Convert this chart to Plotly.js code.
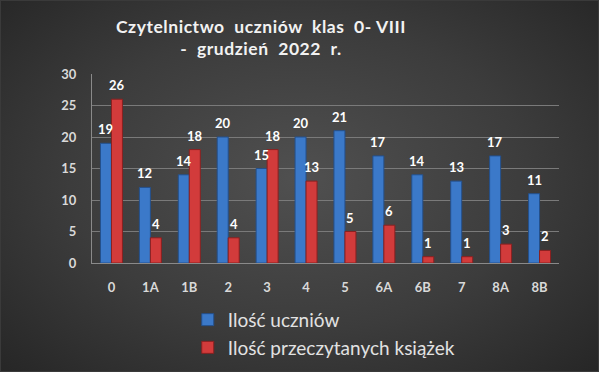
<!DOCTYPE html>
<html>
<head>
<meta charset="utf-8">
<script src="https://cdn.plot.ly/plotly-3.0.1.min.js"></script>
<style>
html,body{margin:0;padding:0;background:#262626;}
#chart{width:599px;height:372px;background:radial-gradient(ellipse 70% 75% at 50% 48%, #505050 0%, #3c3c3c 55%, #262626 100%);box-sizing:border-box;border:1px solid #3a3a3a;}
#chart .gtitle{letter-spacing:0.55px;}
</style>
</head>
<body>
<div id="chart"></div>
<script>
const categories = ['0','1A','1B','2','3','4','5','6A','6B','7','8A','8B'];
const students = [19,12,14,20,15,20,21,17,14,13,17,11];
const books = [26,4,18,4,18,13,5,6,1,1,3,2];
const seriesNames = ['Ilość uczniów','Ilość przeczytanych książek'];
const titleText = 'Czytelnictwo\u00a0 uczniów\u00a0 klas\u00a0 0-\u00a0VIII<br>-\u00a0 grudzień\u00a0 2022\u00a0 r.';

const fontFam = 'Lato, "Open Sans", sans-serif';
const traces = [
  {type:'bar', name:seriesNames[0], x:categories, y:students,
   marker:{color:'#3b79c9', line:{color:'#24508c', width:1}}, hoverinfo:'none'},
  {type:'bar', name:seriesNames[1], x:categories, y:books,
   marker:{color:'#d23b3b', line:{color:'#8a2020', width:1}}, hoverinfo:'none'}
];

const annotations = [];
categories.forEach((c,i)=>{
  annotations.push({x:i, y:students[i], xref:'x', yref:'y', text:String(students[i]), showarrow:false,
    xshift:-5.5, yshift:4, yanchor:'bottom', font:{family:fontFam, size:13, color:'#ffffff', weight:'bold'}});
  annotations.push({x:i, y:books[i], xref:'x', yref:'y', text:String(books[i]), showarrow:false,
    xshift:5.5, yshift:4, yanchor:'bottom', font:{family:fontFam, size:13, color:'#ffffff', weight:'bold'}});
});

const layout = {
  width:599, height:372,
  paper_bgcolor:'rgba(0,0,0,0)', plot_bgcolor:'rgba(0,0,0,0)',
  margin:{l:91, r:41, t:73, b:110, autoexpand:false},
  title:{text:titleText, x:0.434, xanchor:'center', y:0.915, yref:'container', yanchor:'middle',
    font:{family:fontFam, size:17.5, color:'#f2f2f2', weight:'bold'}},
  barmode:'group', bargap:0.435, bargroupgap:0,
  xaxis:{type:'category', showline:true, linecolor:'#8a8a8a', linewidth:1, showgrid:false,
    ticks:'', ticklabelstandoff:12, tickfont:{family:fontFam, size:13, color:'#d9d9d9', weight:'bold'}},
  yaxis:{range:[0,30], dtick:5, showgrid:true, gridcolor:'#7a7a7a', gridwidth:1,
    showline:true, linecolor:'#8a8a8a', linewidth:1, zeroline:false, ticks:'', ticklabelstandoff:12,
    tickfont:{family:fontFam, size:13, color:'#d9d9d9', weight:'bold'}},
  showlegend:true,
  legend:{orientation:'v', x:0.205, xanchor:'left', y:-0.2, yanchor:'top', bgcolor:'rgba(0,0,0,0)',
    font:{family:fontFam, size:19, color:'#e2e2e2'}, itemwidth:30},
  annotations:annotations
};
Plotly.newPlot('chart', traces, layout, {displayModeBar:false, staticPlot:true});
</script>
</body>
</html>
